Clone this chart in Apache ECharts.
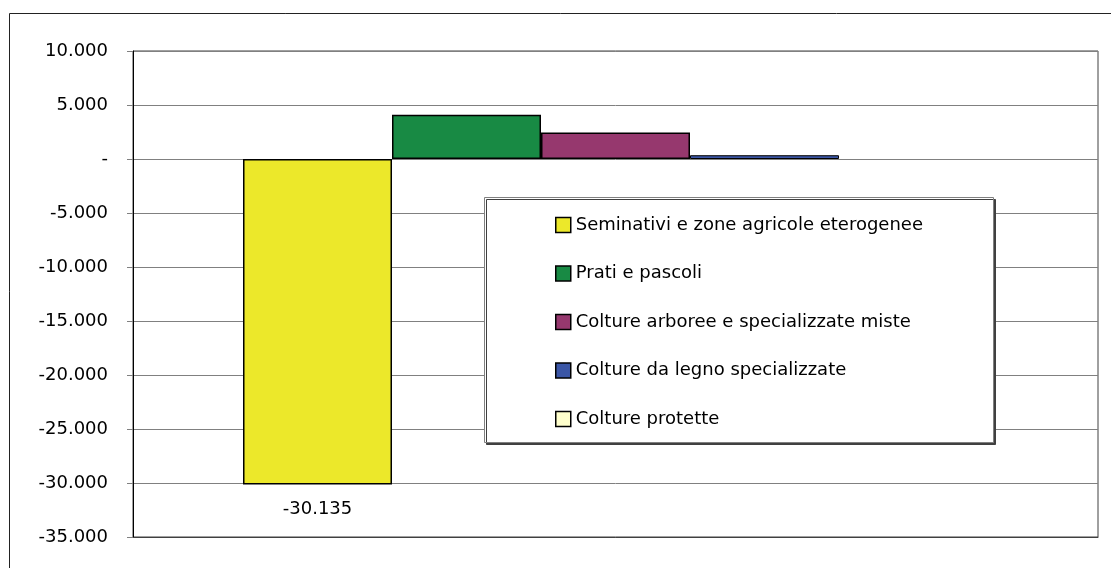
<!DOCTYPE html>
<html>
<head>
<meta charset="utf-8">
<script src="https://cdn.jsdelivr.net/npm/echarts@6/dist/echarts.min.js"></script>
<style>
  html, body { margin: 0; padding: 0; background: #fff; }
  #main { width: 1111px; height: 568px; }
</style>
</head>
<body>
<div id="main"></div>
<script>
    var myChart = echarts.init(document.getElementById('main'));

    // dati
    var categorie = [''];
    var serie = [
        'Seminativi e zone agricole eterogenee',
        'Prati e pascoli',
        'Colture arboree e specializzate miste',
        'Colture da legno specializzate',
        'Colture protette'
    ];
    var valori = [-30135, 4100, 2450, 350, 0];
    var colori = ['#ECE82A', '#188A44', '#96386E', '#3B56A6', '#FFFFCC'];
    var asseY = [-35000, 10000, 5000];   // min, max, passo

    const formatta = (v) => {
        if (v == 0) return '-';
        var s = Math.abs(v).toString().replace(/\B(?=(\d{3})+(?!\d))/g, '.');
        return (v < 0 ? '-' : '') + s;
    }

    var font = 'DejaVu Sans';
    var bordi = [1.5, 1.5, 1.5, 1, 0];

    var series = serie.map(function (nome, i) {
        return {
            name: nome,
            type: 'bar',
            barGap: '0%',
            barCategoryGap: '22.8%',
            data: [valori[i]],
            itemStyle: {
                color: colori[i],
                borderColor: '#000',
                borderWidth: bordi[i]
            },
            label: {
                show: i == 0,
                position: 'bottom',
                distance: 16,
                color: '#000',
                fontFamily: font,
                fontSize: 18,
                formatter: function (p) { return formatta(p.value); }
            }
        };
    });

    option = {
        animation: false,
        backgroundColor: '#fff',
        textStyle: {fontFamily: font},
        grid: {
            left: 133,
            right: 13,
            top: 51,
            bottom: 31,
            show: true,
            borderColor: '#404040',
            borderWidth: 1
        },
        xAxis: {
            type: 'category',
            data: categorie,
            axisLine: {onZero: false, lineStyle: {color: '#404040'}},
            axisTick: {show: false},
            axisLabel: {show: false}
        },
        yAxis: {
            type: 'value',
            min: asseY[0],
            max: asseY[1],
            interval: asseY[2],
            axisLine: {show: true, lineStyle: {color: '#000', width: 1}},
            axisTick: {show: true, length: 6, lineStyle: {color: '#808080'}},
            splitLine: {lineStyle: {color: '#808080', width: 1}},
            axisLabel: {
                margin: 25,
                color: '#000',
                fontFamily: font,
                fontSize: 18,
                formatter: formatta
            }
        },
        legend: {
            orient: 'vertical',
            left: 550,
            top: 211,
            z: 10,
            itemWidth: 15,
            itemHeight: 15,
            itemGap: 30.5,
            icon: 'rect',
            itemStyle: {borderColor: '#000', borderWidth: 1.5},
            textStyle: {color: '#000', fontFamily: font, fontSize: 18},
            data: serie
        },
        graphic: [
            {
                type: 'rect',
                z: 0,
                silent: true,
                shape: {x: 9.5, y: 13.5, width: 1200, height: 700},
                style: {fill: 'none', stroke: '#222', lineWidth: 1}
            },
            {
                type: 'rect',
                z: 5,
                silent: true,
                shape: {x: 484.5, y: 197.5, width: 509, height: 245},
                style: {
                    fill: '#fff',
                    stroke: '#808080',
                    lineWidth: 1,
                    shadowColor: '#404040',
                    shadowOffsetX: 2,
                    shadowOffsetY: 2
                }
            }
        ],
        series: series
    };

    myChart.setOption(option);
</script>
</body>
</html>
